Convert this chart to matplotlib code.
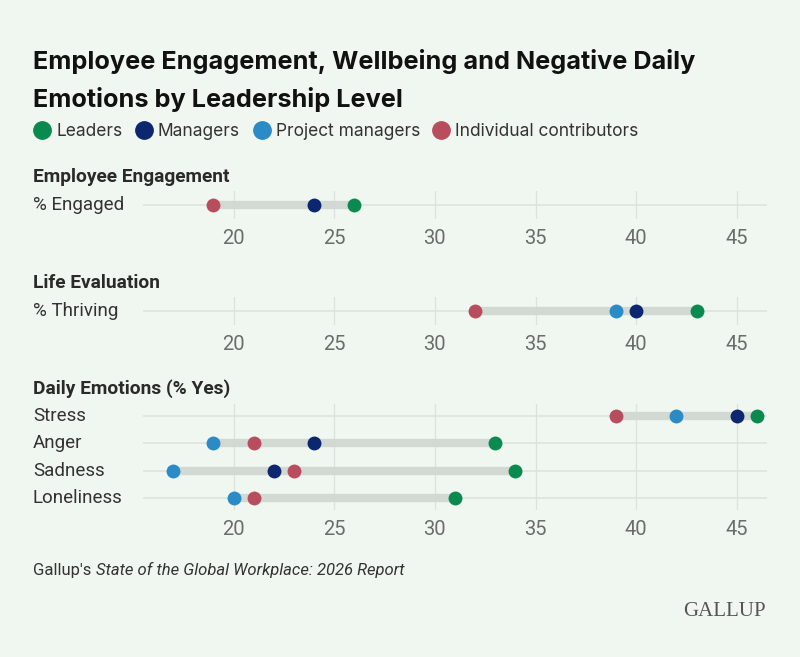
import numpy as np
import matplotlib
matplotlib.use('Agg')
import matplotlib.pyplot as plt
import matplotlib.transforms as mtransforms
from matplotlib.lines import Line2D

# chart data
sections = ['Employee Engagement', 'Life Evaluation', 'Daily Emotions (% Yes)']
section_rows = [['% Engaged'], ['% Thriving'], ['Stress', 'Anger', 'Sadness', 'Loneliness']]
leaders = [[26], [43], [46, 33, 34, 31]]
managers = [[24], [40], [45, 24, 22, np.nan]]
project_managers = [[np.nan], [39], [42, 19, 17, 20]]
individual = [[19], [32], [39, 21, 23, 21]]
xticks = [20, 25, 30, 35, 40, 45]

series_names = ['Leaders', 'Managers', 'Project managers', 'Individual contributors']
series_colors = ['#0b8a4f', '#0c2770', '#2a8bc6', '#b84e5d']

BG = '#f0f6f0'
W, H = 800, 657


def fy(px):
    return 1 - px / H


def fx(px):
    return px / W


fig = plt.figure(figsize=(8, 6.57), dpi=100, facecolor=BG)

fig.text(fx(33), fy(62), 'Employee Engagement, Wellbeing and Negative Daily',
         fontsize=18.2, fontweight='bold', family='Inter', color='#111111', va='center')
fig.text(fx(33), fy(100), 'Emotions by Leadership Level',
         fontsize=18.2, fontweight='bold', family='Inter', color='#111111', va='center')

handles = [Line2D([], [], marker='o', ls='', markersize=12.5, color=c) for c in series_colors]
fig.legend(handles, series_names, loc='center left', bbox_to_anchor=(fx(18), fy(132)),
           ncol=4, frameon=False, handletextpad=0.3, columnspacing=0.75,
           handlelength=1.0, prop={'family': 'Inter', 'size': 12.5}, labelcolor='#333333')

# panel extents in pixels (top, bottom)
panels = [(191, 219), (297, 325), (404, 510)]
title_y = [177, 283, 389]

for k in range(len(sections)):
    top, bot = panels[k]
    ax = fig.add_axes([fx(143), fy(bot), fx(767 - 143), (bot - top) / H])
    ax.set_facecolor(BG)
    n = len(section_rows[k])
    ax.set_xlim(15.5, 46.5)
    ax.set_ylim(n - 1 + 0.44, -0.44)
    for s in ax.spines.values():
        s.set_visible(False)
    ax.set_xticks(xticks)
    ax.set_yticks([])
    ax.tick_params(axis='x', length=0, pad=7, labelsize=14.5, labelcolor='#6a6e6a')
    for lab in ax.get_xticklabels():
        lab.set_family('Roboto')
    ax.grid(axis='x', color='#dbe1db', lw=0.9)
    ax.set_axisbelow(True)

    fig.text(fx(33), fy(title_y[k]), sections[k], fontsize=13.8, fontweight='bold',
             family='Roboto', color='#2a2a2a', va='center')
    trans = mtransforms.blended_transform_factory(fig.transFigure, ax.transData)

    groups = [leaders[k], managers[k], project_managers[k], individual[k]]
    for i, row in enumerate(section_rows[k]):
        ax.text(fx(33), i, row, transform=trans, va='center', fontsize=13.5,
                family='Roboto', color='#333333')
        ax.axhline(i, color='#dde3dd', lw=1.2, zorder=1)
        vals = np.array([g[i] for g in groups], dtype=float)
        ax.plot([np.nanmin(vals), np.nanmax(vals)], [i, i], color='#d2d8d2', lw=6,
                solid_capstyle='butt', zorder=2)
        # draw dots back to front: project managers, managers, individual, leaders
        for j in [2, 1, 3, 0]:
            if not np.isnan(vals[j]):
                ax.plot(vals[j], i, 'o', color=series_colors[j], markersize=10,
                        markeredgewidth=0, zorder=3)

# source line: regular prefix followed by italic title
renderer = fig.canvas.get_renderer()
t1 = fig.text(fx(33), fy(570), "Gallup's ", fontsize=12, family='Roboto',
              color='#333333', va='center')
bb = t1.get_window_extent(renderer=renderer)
fig.text(bb.x1 / W, fy(570), 'State of the Global Workplace: 2026 Report', fontsize=12,
         family='Roboto', style='italic', color='#333333', va='center')
fig.text(fx(766), fy(611), 'GALLUP', fontsize=15, family='Liberation Serif',
         color='#555555', va='center', ha='right')

fig.savefig('out.png', dpi=100, facecolor=BG)
